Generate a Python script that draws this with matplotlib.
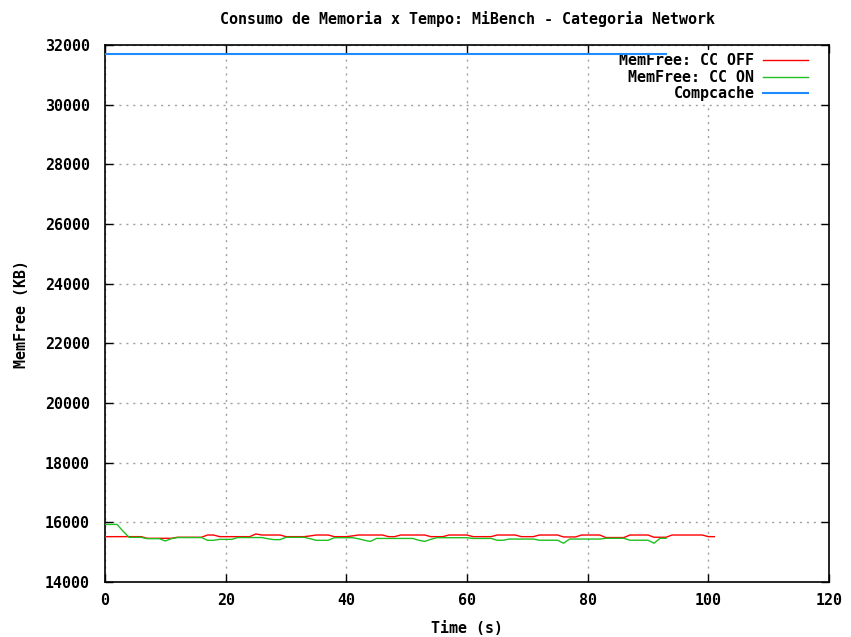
import numpy as np
import matplotlib
matplotlib.use("Agg")
import matplotlib.pyplot as plt

# ---- data ----
time_off = np.arange(0, 102)
memfree_cc_off = [
    15520, 15520, 15520, 15520, 15520, 15520, 15520,
    15465, 15465, 15465, 15465, 15465,
    15500, 15500, 15500, 15500, 15500,
    15575, 15575,
    15520, 15520, 15520, 15520, 15520, 15520,
    15610,
    15575, 15575, 15575, 15575,
    15520, 15520, 15520, 15520,
    15545,
    15575, 15575, 15575,
    15520, 15520, 15520,
    15545,
    15575, 15575, 15575, 15575, 15575,
    15520, 15520,
    15575, 15575, 15575, 15575, 15575,
    15520, 15520, 15520,
    15575, 15575, 15575, 15575,
    15520, 15520, 15520, 15520,
    15575, 15575, 15575, 15575,
    15520, 15520, 15520,
    15575, 15575, 15575, 15575,
    15510, 15510, 15510,
    15575, 15575, 15575, 15575,
    15490, 15490, 15490, 15490,
    15575, 15575, 15575, 15575,
    15500, 15500, 15500,
    15575, 15575, 15575, 15575, 15575, 15575,
    15520, 15520,
]

time_on = np.arange(0, 94)
memfree_cc_on = [
    15930, 15930, 15930,
    15700,
    15497, 15497, 15497,
    15452, 15452, 15452,
    15375,
    15452,
    15490, 15490, 15490, 15490, 15490,
    15397, 15397,
    15430, 15430, 15430,
    15490, 15490, 15490, 15490, 15490,
    15450,
    15420, 15420,
    15497, 15497, 15497, 15497,
    15452,
    15397, 15397, 15397,
    15485, 15485, 15485, 15485,
    15450, 15400, 15360,
    15460, 15460, 15460, 15460, 15460, 15460, 15460,
    15400, 15360, 15430,
    15485, 15485, 15485, 15485, 15485, 15485,
    15460, 15460, 15460, 15460,
    15400, 15400,
    15440, 15440, 15440, 15440, 15440,
    15400, 15400, 15400,
    15400, 15300,
    15440, 15440, 15440, 15440, 15440, 15440,
    15465, 15465, 15465, 15465,
    15400, 15400, 15400, 15400,
    15300,
    15465, 15465,
]

time_comp = [0, 93]
compcache = [31690, 31690]

labels = ["MemFree: CC OFF", "MemFree: CC ON", "Compcache"]
colors = ["#ff0000", "#20c020", "#1e8cff"]

title = "Consumo de Memoria x Tempo: MiBench - Categoria Network"
xlabel = "Time (s)"
ylabel = "MemFree (KB)"
xticks = [0, 20, 40, 60, 80, 100, 120]
yticks = list(range(14000, 32001, 2000))

# ---- plot ----
FONT = "DejaVu Sans Mono"
FS = 10.8
plt.rcParams["font.family"] = FONT
plt.rcParams["font.weight"] = "bold"

fig = plt.figure(figsize=(8.51, 6.37), dpi=100)
ax = fig.add_axes([105 / 851, 1 - 582 / 637, (829 - 105) / 851, (582 - 45) / 637])

ax.plot(time_off, memfree_cc_off, color=colors[0], lw=1.0, label=labels[0], zorder=3)
ax.plot(time_on, memfree_cc_on, color=colors[1], lw=1.0, label=labels[1], zorder=3)
ax.plot(time_comp, compcache, color=colors[2], lw=1.5, label=labels[2], zorder=3)

ax.set_xlim(0, 120)
ax.set_ylim(14000, 32000)
ax.set_xticks(xticks)
ax.set_yticks(yticks)
ax.set_xticklabels([str(v) for v in xticks], fontsize=FS, fontweight="bold")
ax.set_yticklabels([str(v) for v in yticks], fontsize=FS, fontweight="bold")
ax.tick_params(direction="in", length=6, width=1, top=True, right=True, pad=8)
ax.tick_params(axis="y", pad=11)
ax.grid(True, color="#a0a0a0", linestyle=(0, (1.5, 3.5)), linewidth=1.0)
ax.set_axisbelow(True)
for s in ax.spines.values():
    s.set_linewidth(1.2)
    s.set_color("black")

ax.set_title(title, fontsize=FS, fontweight="bold", pad=15)
ax.set_xlabel(xlabel, fontsize=FS, fontweight="bold", labelpad=9)
ax.set_ylabel(ylabel, fontsize=FS, fontweight="bold", labelpad=11)

leg = ax.legend(loc="upper right", bbox_to_anchor=(0.985, 1.004), markerfirst=False,
                frameon=True, fancybox=False, edgecolor="none", facecolor="white",
                framealpha=1.0, handlelength=3.0, handletextpad=0.55,
                labelspacing=0.1, borderpad=0.2,
                prop={"family": FONT, "weight": "bold", "size": FS})
leg.set_zorder(2)

fig.savefig("out.png", dpi=100)
